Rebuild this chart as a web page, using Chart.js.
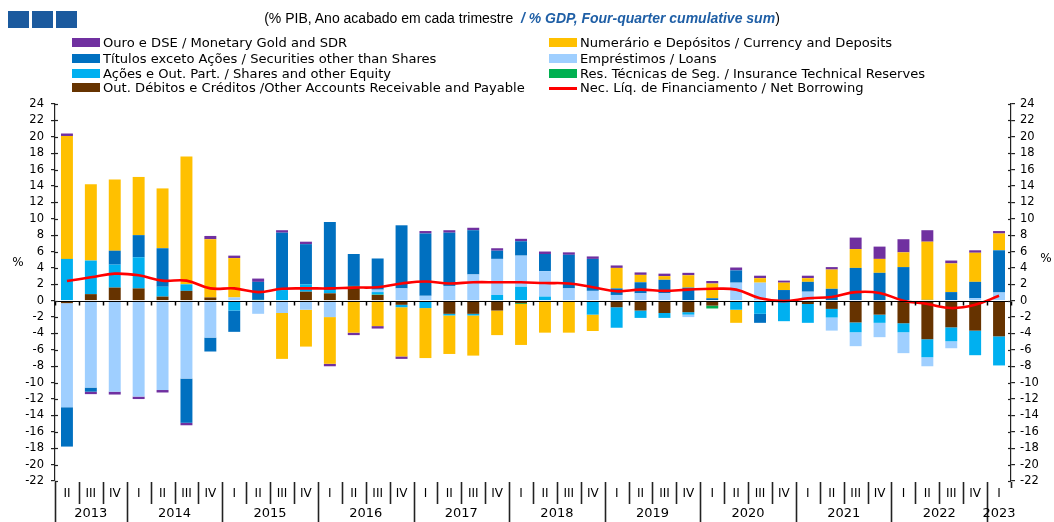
<!DOCTYPE html>
<html><head><meta charset="utf-8">
<script src="https://cdn.jsdelivr.net/npm/chart.js@4.4.0/dist/chart.umd.min.js"></script>
<style>
body{margin:0;background:#fff;}
#wrap{position:relative;width:1054px;height:522px;overflow:hidden;}
#c{position:absolute;left:0;top:0;}
.logo{position:absolute;top:11px;width:21px;height:17px;background:#1B5A9E;}
#title{position:absolute;top:10px;left:0;width:1044px;text-align:center;font:14px "Liberation Sans",Arial,sans-serif;color:#000;white-space:pre;}
#title span{color:#1F5FA6;font-style:italic;font-weight:bold;}
.leg{position:absolute;font:13.1px "DejaVu Sans",sans-serif;white-space:nowrap;color:#000;line-height:14px;height:14px;}
.sw{position:absolute;left:0;top:2px;width:28px;height:9px;}
.sw.line{top:6px;height:3px;}
.leg .t{position:absolute;left:31px;top:0;}
</style></head>
<body>
<div id="wrap">
<canvas id="c" width="1054" height="522"></canvas>
<div class="logo" style="left:8px"></div><div class="logo" style="left:32px"></div><div class="logo" style="left:56px"></div>
<div id="title">(% PIB, Ano acabado em cada trimestre  <span>/ % GDP, Four-quarter cumulative sum</span>)</div>
<div id="legend"></div>
</div>
<script>
// ---- data ----
const categories = [
 '2013 II','2013 III','2013 IV',
 '2014 I','2014 II','2014 III','2014 IV',
 '2015 I','2015 II','2015 III','2015 IV',
 '2016 I','2016 II','2016 III','2016 IV',
 '2017 I','2017 II','2017 III','2017 IV',
 '2018 I','2018 II','2018 III','2018 IV',
 '2019 I','2019 II','2019 III','2019 IV',
 '2020 I','2020 II','2020 III','2020 IV',
 '2021 I','2021 II','2021 III','2021 IV',
 '2022 I','2022 II','2022 III','2022 IV',
 '2023 I'
];
const otherAccounts = [-0.3,0.8,1.6, 1.5,0.5,1.2,0.4, 0,0,0,1.1, 0.9,1.7,0.7,-0.5, 0,-1.6,-1.6,-1.2, -0.3,0,0,0, -0.8,-1.2,-1.5,-1.4, -0.6,0,0,0, -0.4,-1.0,-2.65,-1.7, -2.75,-4.7,-3.25,-3.65, -4.35];
const insurance = [0,0,0, 0,0,0,0, 0,0.1,0,0, 0,0.1,0.05,0, 0,0,0,0, -0.1,0,0,0, 0,0,0,0, -0.35,0,0,0, 0,0,0,0, 0,0,0,0, 0];
const shares = [5.1,4.1,2.8, 3.8,1.2,0.8,0, -1.2,0,1.3,0.9, 0.4,0,0.3,-0.3, -0.9,-0.2,-0.2,0.7, 1.7,0.5,0,-1.7, -2.5,-0.9,-0.6,-0.3, 0,-1.1,-1.6,-2.5, -2.3,-1.05,-1.2,-1.0, -1.1,-2.2,-1.7,-3.0, -3.55];
const loans = [-12.7,-10.6,-11.1, -11.7,-10.9,-9.5,-4.5, 0.4,-1.6,-1.5,-1.1, -2.0,0,0.3,1.5, 0.6,1.8,3.2,4.4, 3.8,3.1,1.5,1.2, 0.7,0.9,0.9,-0.3, 0,2.2,2.2,0, 1.1,-1.6,-1.7,-1.75, -2.55,-1.1,-0.85,0.3, 1.0];
const securities = [-4.8,-0.5,1.7, 2.7,4.7,-5.4,-1.7, -2.6,2.2,7.0,4.9, 8.3,3.9,3.8,7.7, 7.6,6.5,5.4,1.0, 1.75,2.1,4.1,3.9, 0.8,1.35,1.65,1.6, 0.3,1.5,-1.1,1.3, 1.2,1.45,4.0,3.4, 4.1,0.1,1.05,2.0, 5.15];
const currency = [15.0,9.3,8.7, 7.1,7.3,15.6,7.1, 4.8,0,-5.6,-4.5, -5.7,-3.9,-3.1,-6.0, -6.1,-4.7,-4.9,-3.0, -5.0,-3.9,-3.9,-2.0, 2.5,0.9,0.45,1.5, 1.8,-1.6,0.55,0.9, 0.45,2.35,2.3,1.7, 1.8,7.1,3.5,3.55, 2.05];
const gold = [0.3,-0.3,-0.35, -0.3,-0.3,-0.3,0.4, 0.3,0.4,0.3,0.3, -0.3,-0.3,-0.3,-0.3, 0.3,0.3,0.3,0.3, 0.3,0.3,0.3,0.3, 0.3,0.3,0.3,0.3, 0.3,0.35,0.3,0.25, 0.3,0.3,1.4,1.5, 1.6,1.4,0.35,0.3, 0.3];
const netBorrowing = [2.4,2.85,3.3, 3.1,2.45,2.45,1.5, 1.5,1.05,1.45,1.5, 1.5,1.6,1.65,2.1, 2.35,2.1,2.25,2.25, 2.25,2.15,2.1,1.65, 1.15,1.35,1.2,1.35, 1.45,1.35,0.3,-0.05, 0.3,0.45,1.05,0.95, 0.0,-0.4,-0.9,-0.5, 0.6];
const yTicks = {min:-22, max:24, step:2};

const names = {
  gold:'Ouro e DSE / Monetary Gold and SDR',
  securities:'Títulos exceto Ações / Securities other than Shares',
  shares:'Ações e Out. Part. / Shares and other Equity',
  other:'Out. Débitos e Créditos /Other Accounts Receivable and Payable',
  currency:'Numerário e Depósitos / Currency and Deposits',
  loans:'Empréstimos / Loans',
  insurance:'Res. Técnicas de Seg. / Insurance Technical Reserves',
  nb:'Nec. Líq. de Financiamento / Net Borrowing'
};
const colors = {gold:'#7030A0',securities:'#0070C0',shares:'#00B0F0',other:'#663300',currency:'#FFC000',loans:'#9FCFFF',insurance:'#00B050',nb:'#FF0000'};

// ---- legend (HTML) ----
const legendCols = [
  {x:72, keys:['gold','securities','shares','other']},
  {x:549, keys:['currency','loans','insurance','nb']}
];
const legendRows = [36,51.5,66.5,81];
const legEl = document.getElementById('legend');
legendCols.forEach(col=>{
  col.keys.forEach((k,i)=>{
    const d=document.createElement('div');
    d.className='leg';
    d.style.left=col.x+'px'; d.style.top=legendRows[i]+'px';
    d.innerHTML='<div class="sw'+(k==='nb'?' line':'')+'" style="background:'+colors[k]+'"></div><span class="t"></span>';
    d.querySelector('.t').textContent=names[k];
    legEl.appendChild(d);
  });
});

function bar(key,data){return {type:'bar',label:names[key],data:data,backgroundColor:colors[key],borderWidth:0,stack:'s',order:1,yAxisID:'y'};}

const TICKFONT = {family:'"DejaVu Sans"', size:11.5};

const axisDeco = {
  id:'axisDeco',
  afterDatasetsDraw(chart){
    const {ctx, chartArea:ca, scales:{x,y}} = chart;
    const n = categories.length;
    const half = (x.getPixelForValue(1)-x.getPixelForValue(0))/2;
    const y0 = Math.round(y.getPixelForValue(0))+0.5;
    ctx.save();
    ctx.strokeStyle='#000'; ctx.lineWidth=1.2;
    ctx.beginPath(); ctx.moveTo(ca.left,y0); ctx.lineTo(ca.right,y0); ctx.stroke();
    ctx.lineWidth=1.5;
    for(let i=0;i<=n;i++){
      const xb = Math.round(x.getPixelForValue(i)-half)+0.5;
      ctx.beginPath(); ctx.moveTo(xb,y0); ctx.lineTo(xb,y0+4); ctx.stroke();
    }
    ctx.restore();
  },
  afterDraw(chart){
    const {ctx, chartArea:ca, scales:{x,y}} = chart;
    const n = categories.length;
    const half = (x.getPixelForValue(1)-x.getPixelForValue(0))/2;
    ctx.save();
    ctx.strokeStyle='#222'; ctx.fillStyle='#000';
    ctx.lineWidth=1.2;
    for(let v=yTicks.min; v<=yTicks.max; v+=yTicks.step){
      const py=Math.round(y.getPixelForValue(v))+0.5;
      ctx.beginPath(); ctx.moveTo(ca.left,py); ctx.lineTo(ca.left+3,py); ctx.stroke();
      ctx.beginPath(); ctx.moveTo(ca.right-3,py); ctx.lineTo(ca.right,py); ctx.stroke();
    }
    const top = ca.bottom+1;
    const qs = categories.map(c=>c.split(' ')[1]);
    const ys = categories.map(c=>c.split(' ')[0]);
    ctx.lineWidth=1.6;
    for(let i=0;i<=n;i++){
      const xb = Math.round(x.getPixelForValue(i)-half)+0.5;
      const yearBoundary = (i===0 || i===n || ys[i]!==ys[i-1]);
      const bottom = (i===n) ? top+6 : (yearBoundary ? 522 : top+22);
      ctx.beginPath(); ctx.moveTo(xb,top); ctx.lineTo(xb,bottom); ctx.stroke();
    }
    ctx.textAlign='center'; ctx.textBaseline='middle';
    ctx.font='12px "DejaVu Sans"';
    qs.forEach((q,i)=>{ ctx.fillText(q, x.getPixelForValue(i), 494); });
    ctx.font='13px "DejaVu Sans"';
    let s=0;
    for(let i=1;i<=n;i++){
      if(i===n || ys[i]!==ys[s]){
        const cx=(x.getPixelForValue(s)+x.getPixelForValue(i-1))/2;
        ctx.fillText(ys[s], cx, 514);
        s=i;
      }
    }
    ctx.font='12px "DejaVu Sans"';
    ctx.fillText('%', 18, 263);
    ctx.fillText('%', 1046, 259);
    ctx.restore();
  }
};

new Chart(document.getElementById('c'), {
  type:'bar',
  data:{
    labels:categories,
    datasets:[
      {type:'line',label:names.nb,data:netBorrowing,borderColor:colors.nb,borderWidth:2.6,pointRadius:0,tension:0.4,fill:false,order:0,stack:'nb',yAxisID:'y'},
      bar('other',otherAccounts),
      bar('insurance',insurance),
      bar('shares',shares),
      bar('loans',loans),
      bar('securities',securities),
      bar('currency',currency),
      bar('gold',gold)
    ]
  },
  options:{
    responsive:false, animation:false, devicePixelRatio:1,
    layout:{padding:{top:104,bottom:41,left:0,right:0}},
    plugins:{legend:{display:false},tooltip:{enabled:false}},
    datasets:{bar:{categoryPercentage:1.0,barPercentage:0.5}},
    scales:{
      x:{stacked:true,display:false,offset:true},
      y:{stacked:true,position:'left',min:yTicks.min,max:yTicks.max,
         ticks:{stepSize:yTicks.step,autoSkip:false,font:TICKFONT,color:'#000',padding:7},
         grid:{drawOnChartArea:false,tickLength:4,color:'#222',lineWidth:1.2},
         border:{color:'#222',width:1.2},
         afterFit(s){s.width=55;}},
      y2:{position:'right',min:yTicks.min,max:yTicks.max,
         ticks:{stepSize:yTicks.step,autoSkip:false,font:TICKFONT,color:'#000',padding:5},
         grid:{drawOnChartArea:false,tickLength:4,color:'#222',lineWidth:1.2},
         border:{color:'#222',width:1.2},
         afterFit(s){s.width=43;}}
    }
  },
  plugins:[axisDeco]
});
</script>
</body></html>
